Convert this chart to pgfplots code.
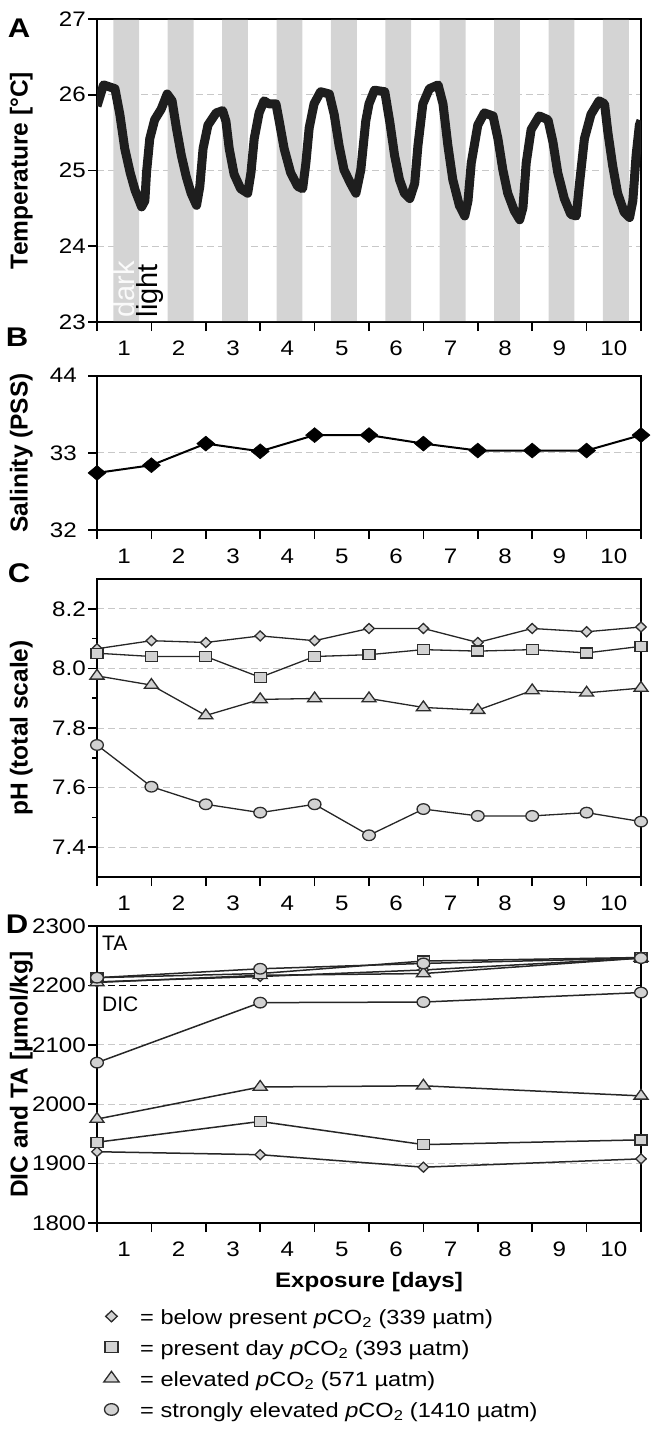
\documentclass[border=0pt]{standalone}
\usepackage{pgfplots}
\pgfplotsset{compat=1.18}
\usepackage{fontspec}
\setmainfont{Liberation Sans}
\newfontfamily\wide[FakeStretch=1.15]{Liberation Sans}

\definecolor{band}{RGB}{212,212,212}
\definecolor{mfill}{RGB}{210,210,210}
\definecolor{medge}{RGB}{45,45,45}
\definecolor{gridc}{RGB}{200,200,200}
\definecolor{curve}{RGB}{30,30,30}

\pgfplotsset{
  panel/.style={
    scale only axis, width=544bp, xmin=0, xmax=10,
    axis line style={line width=1.6bp},
    tick align=outside, tick pos=left,
    major tick length=9bp, minor tick length=5bp,
    every tick/.style={black, line width=1.6bp},
    xtick={0,...,10},
    xticklabels={1,2,3,4,5,6,7,8,9,10,{}},
    ticklabel style={font=\wide\fontsize{21bp}{25bp}\selectfont, inner sep=2bp},
    xticklabel style={xshift=27.2bp, yshift=-8bp},
    /pgf/number format/assume math mode=true,
    ymajorgrids,
    grid style={gridc, line width=1bp, dash pattern=on 7bp off 4bp},
    ylabel style={at={(axis description cs:-0.139,0.5)}, anchor=center,
      font=\bfseries\fontsize{24.5bp}{28bp}\selectfont},
  },
  sD/.style={black!85, line width=1.3bp, mark=diamond*, mark size=5bp,
    mark options={draw=medge, fill=mfill, line width=1.3bp, xscale=1.4}},
  sS/.style={black!85, line width=1.3bp, mark=square*, mark size=5bp,
    mark options={draw=medge, fill=mfill, line width=1.3bp, xscale=1.2}},
  sT/.style={black!85, line width=1.3bp, mark=triangle*, mark size=6.5bp,
    mark options={draw=medge, fill=mfill, line width=1.3bp, xscale=1.25}},
  sC/.style={black!85, line width=1.3bp, mark=*, mark size=5.3bp,
    mark options={draw=medge, fill=mfill, line width=1.3bp, xscale=1.2}},
}

\begin{document}
\begin{tikzpicture}
\path[use as bounding box] (0,0) rectangle (658bp,-1441bp);

% ---------- A: temperature
\begin{axis}[panel, at={(97bp,-19bp)}, anchor=north west, height=303bp,
  ymin=23, ymax=27, ytick={23,...,27}, ylabel={Temperature [°C]}]
\addplot[fill=band, draw=none] coordinates {
 (0.30,23.012) (0.30,26.988) (0.775,26.988) (0.775,23.012)
 (1.30,23.012) (1.30,26.988) (1.775,26.988) (1.775,23.012)
 (2.30,23.012) (2.30,26.988) (2.775,26.988) (2.775,23.012)
 (3.30,23.012) (3.30,26.988) (3.775,26.988) (3.775,23.012)
 (4.30,23.012) (4.30,26.988) (4.775,26.988) (4.775,23.012)
 (5.30,23.012) (5.30,26.988) (5.775,26.988) (5.775,23.012)
 (6.30,23.012) (6.30,26.988) (6.775,26.988) (6.775,23.012)
 (7.30,23.012) (7.30,26.988) (7.775,26.988) (7.775,23.012)
 (8.30,23.012) (8.30,26.988) (8.775,26.988) (8.775,23.012)
 (9.30,23.012) (9.30,26.988) (9.775,26.988) (9.775,23.012)
};
\addplot[curve, line width=9bp, line join=round] table {
0.00 25.85
0.12 26.13
0.33 26.08
0.42 25.74
0.51 25.29
0.61 24.97
0.70 24.74
0.82 24.52
0.88 24.60
0.91 24.97
0.97 25.42
1.06 25.67
1.18 25.81
1.29 26.01
1.38 25.92
1.46 25.56
1.55 25.20
1.64 24.92
1.73 24.70
1.83 24.54
1.89 24.79
1.95 25.29
2.04 25.60
2.19 25.76
2.31 25.79
2.37 25.65
2.43 25.29
2.52 24.95
2.64 24.76
2.77 24.70
2.83 24.97
2.89 25.42
2.98 25.76
3.07 25.92
3.16 25.88
3.29 25.88
3.35 25.65
3.44 25.29
3.56 24.97
3.69 24.79
3.78 24.76
3.84 25.10
3.90 25.56
3.99 25.88
4.11 26.04
4.27 26.01
4.36 25.74
4.45 25.33
4.54 25.01
4.66 24.83
4.76 24.70
4.85 25.01
4.94 25.65
5.00 25.88
5.10 26.06
5.29 26.04
5.38 25.65
5.47 25.20
5.56 24.88
5.65 24.70
5.75 24.63
5.84 24.83
5.90 25.33
5.99 25.88
6.11 26.08
6.27 26.13
6.36 25.88
6.45 25.33
6.54 24.88
6.66 24.54
6.76 24.40
6.82 24.60
6.88 25.10
7.00 25.60
7.12 25.76
7.28 25.72
7.37 25.42
7.46 25.01
7.55 24.70
7.67 24.47
7.77 24.35
7.83 24.51
7.89 25.10
7.98 25.54
8.13 25.72
8.29 25.67
8.38 25.38
8.47 24.97
8.59 24.63
8.71 24.42
8.81 24.40
8.87 24.83
8.96 25.42
9.08 25.74
9.23 25.92
9.33 25.88
9.39 25.51
9.48 25.06
9.57 24.70
9.69 24.45
9.79 24.38
9.85 24.60
9.91 25.20
9.97 25.60
10.00 25.66
};
\node[rotate=90, anchor=west, inner sep=0pt, text=white!96!gray,
  font=\fontsize{29bp}{33bp}\selectfont] at (axis cs:0.50,23.06) {dark};
\node[rotate=90, anchor=west, inner sep=0pt, text=black,
  font=\fontsize{29bp}{33bp}\selectfont] at (axis cs:0.97,23.06) {light};
\end{axis}

% ---------- B: salinity
\begin{axis}[panel, at={(97bp,-375.7bp)}, anchor=north west, height=154.3bp,
  ymin=32, ymax=34, ytick={32,33,34}, yticklabels={32,33,44},
  yticklabel style={xshift=-9bp},
  ylabel={Salinity (PSS)}, clip=false]
\addplot[black, line width=2bp, mark=square*, mark size=5.3bp,
  mark options={fill=black, draw=black, line width=0.5bp, xscale=1.2, rotate=45}]
  coordinates {(0,32.74) (1,32.84) (2,33.12) (3,33.02) (4,33.23) (5,33.23)
               (6,33.12) (7,33.03) (8,33.03) (9,33.03) (10,33.23)};
\end{axis}

% ---------- C: pH
\begin{axis}[panel, at={(97bp,-579bp)}, anchor=north west, height=298bp,
  ymin=7.3, ymax=8.3, ytick={7.4,7.6,7.8,8.0,8.2}, minor ytick={7.5,7.7,7.9,8.1},
  yticklabel style={/pgf/number format/.cd, fixed, fixed zerofill, precision=1},
  ylabel={pH (total scale)}, clip=false]
\addplot[sD] coordinates {(0,8.066) (1,8.093) (2,8.087) (3,8.109) (4,8.093) (5,8.134)
  (6,8.134) (7,8.087) (8,8.134) (9,8.123) (10,8.139)};
\addplot[sS] coordinates {(0,8.051) (1,8.040) (2,8.040) (3,7.970) (4,8.040) (5,8.046)
  (6,8.063) (7,8.058) (8,8.063) (9,8.052) (10,8.074)};
\addplot[sT] coordinates {(0,7.975) (1,7.944) (2,7.842) (3,7.896) (4,7.899) (5,7.899)
  (6,7.869) (7,7.860) (8,7.926) (9,7.918) (10,7.934)};
\addplot[sC] coordinates {(0,7.743) (1,7.603) (2,7.544) (3,7.516) (4,7.544) (5,7.440)
  (6,7.528) (7,7.505) (8,7.505) (9,7.516) (10,7.486)};
\end{axis}

% ---------- D: DIC and TA
\begin{axis}[panel, at={(97bp,-926bp)}, anchor=north west, height=297bp,
  ymin=1800, ymax=2300, ytick={1800,1900,...,2300},
  yticklabel style={/pgf/number format/1000 sep={}},
  ylabel={DIC and TA [µmol/kg]}, clip=false,
  xlabel={Exposure [days]},
  xlabel style={at={(axis description cs:0.5,-0.199)}, anchor=center,
    font=\wide\bfseries\fontsize{21bp}{25bp}\selectfont},
  legend cell align=left,
  legend style={at={(axis description cs:0.012,-0.29)}, anchor=north west,
    draw=none, fill=none, inner sep=0pt, row sep=11bp,
    nodes={inner sep=0pt, text height=15bp, text depth=5bp},
    font=\wide\fontsize{20.5bp}{24bp}\selectfont},
  legend image code/.code={\draw[#1, every mark/.append style={scale=1.1}]
    plot coordinates {(0bp,3bp)};}]
\addplot[black, line width=1.5bp, dash pattern=on 7bp off 4bp, forget plot]
  coordinates {(0,2200) (10,2200)};
% TA
\addplot[sD, line width=1.5bp, forget plot] coordinates {(0,2206) (3,2215) (6,2226) (10,2246)};
\addplot[sT, line width=1.5bp, forget plot] coordinates {(0,2205) (3,2217) (6,2220) (10,2246)};
\addplot[sS, line width=1.5bp, forget plot] coordinates {(0,2213) (3,2220) (6,2241) (10,2247)};
\addplot[sC, line width=1.5bp, forget plot] coordinates {(0,2213) (3,2228) (6,2237) (10,2246)};
% DIC
\addplot[sD, line width=1.5bp] coordinates {(0,1920) (3,1915) (6,1894) (10,1908)};
\addlegendentry{\hspace*{21bp}= below present \textit{p}CO\textsubscript{2} (339 µatm)}
\addplot[sS, line width=1.5bp] coordinates {(0,1936) (3,1971) (6,1932) (10,1940)};
\addlegendentry{\hspace*{21bp}= present day \textit{p}CO\textsubscript{2} (393 µatm)}
\addplot[sT, line width=1.5bp] coordinates {(0,1975) (3,2029) (6,2031) (10,2014)};
\addlegendentry{\hspace*{21bp}= elevated \textit{p}CO\textsubscript{2} (571 µatm)}
\addplot[sC, line width=1.5bp] coordinates {(0,2070) (3,2171) (6,2172) (10,2188)};
\addlegendentry{\hspace*{21bp}= strongly elevated \textit{p}CO\textsubscript{2} (1410 µatm)}
\node[anchor=west, inner sep=0pt, font=\fontsize{21bp}{25bp}\selectfont]
  at (axis cs:0.092,2271) {TA};
\node[anchor=west, inner sep=0pt, font=\fontsize{21bp}{25bp}\selectfont]
  at (axis cs:0.092,2169) {DIC};
\end{axis}

% panel letters
\node[font=\wide\bfseries\fontsize{27bp}{31bp}\selectfont] at (19bp,-28bp) {A};
\node[font=\wide\bfseries\fontsize{27bp}{31bp}\selectfont] at (17bp,-337bp) {B};
\node[font=\wide\bfseries\fontsize{27bp}{31bp}\selectfont] at (19bp,-573bp) {C};
\node[font=\wide\bfseries\fontsize{27bp}{31bp}\selectfont] at (17bp,-924bp) {D};
\end{tikzpicture}
\end{document}
